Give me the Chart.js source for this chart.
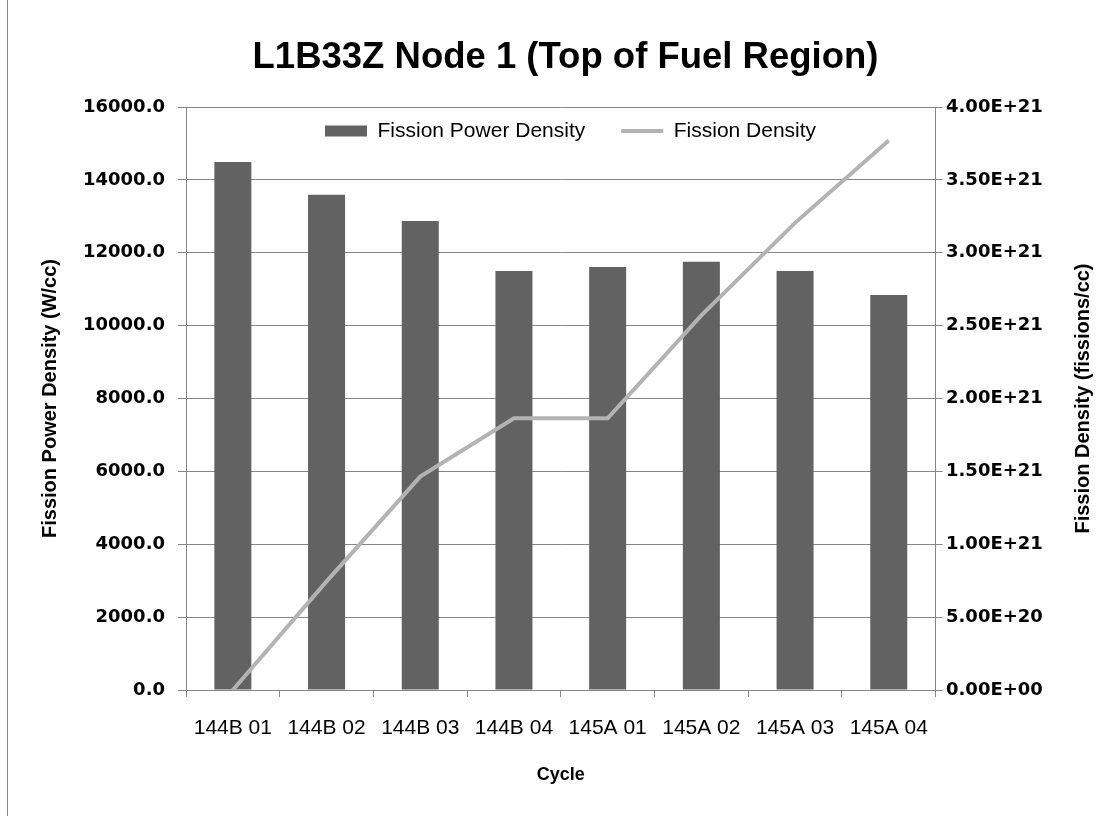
<!DOCTYPE html>
<html>
<head>
<meta charset="utf-8">
<script src="https://cdn.jsdelivr.net/npm/chart.js@4.4.0/dist/chart.umd.min.js"></script>
<style>
html,body{margin:0;padding:0;background:#fff;}
#wrap{position:relative;width:1119px;height:816px;overflow:hidden;}
#wrap canvas{position:absolute;left:0;top:0;}
#edge{position:absolute;left:7px;top:0;width:1px;height:816px;background:#878787;}
</style>
</head>
<body>
<div id="wrap"><canvas id="c" width="1119" height="816"></canvas><div id="edge"></div></div>
<script>
// ---- data ----
const categories = ['144B 01','144B 02','144B 03','144B 04','145A 01','145A 02','145A 03','145A 04'];
const fissionPowerDensity = [14490, 13590, 12870, 11500, 11610, 11750, 11500, 10840];
const fissionDensity = [0, 7.45e20, 1.464e21, 1.864e21, 1.864e21, 2.57e21, 3.205e21, 3.77e21];
const seriesNames = ['Fission Power Density', 'Fission Density'];
const chartTitle = 'L1B33Z Node 1 (Top of Fuel Region)';
const xAxisTitle = 'Cycle';
const leftAxisTitle = 'Fission Power Density (W/cc)';
const rightAxisTitle = 'Fission Density (fissions/cc)';
const leftTickRange = [0, 16000, 2000];
const rightTickRange = [0, 4e21, 5e20];

// ---- styles ----
const GRID = '#868686';
const BAR = '#626262';
const LINE = '#b3b3b3';
const SANS = '"Liberation Sans", Arial, sans-serif';
const TICKFONT = '"DejaVu Sans", Verdana, sans-serif';

function sci(v) {
  return v.toExponential(2).toUpperCase().replace(/E([+-])(\d)$/, 'E$10$2');
}

// legend placed inside the plot area (like the reference)
const legendInPlot = {
  id: 'legendInPlot',
  beforeLayout(chart) {
    const lg = chart.legend;
    if (lg && !lg._inPlot) {
      lg._inPlot = true;
      const fit = lg.fit, draw = lg.draw;
      lg.fit = function () { fit.call(this); this._h = this.height; this.height = 0; };
      lg.draw = function () {
        const pad = this.options.labels.padding;
        this.left = 325 - pad;
        this.right = chart.width;
        this.top = 131 - 10.5 - pad;
        this.bottom = chart.chartArea.bottom;
        this.width = this.right - this.left;
        this.height = this.bottom - this.top;
        draw.call(this);
      };
    }
  }
};

// right axis title reads bottom-to-top, like the left one
const rightTitle = {
  id: 'rightTitle',
  afterDraw(chart) {
    const ctx = chart.ctx;
    const ca = chart.chartArea;
    ctx.save();
    ctx.translate(1083, (ca.top + ca.bottom) / 2);
    ctx.rotate(-Math.PI / 2);
    ctx.font = 'bold 20px ' + SANS;
    ctx.fillStyle = '#000';
    ctx.textAlign = 'center';
    ctx.textBaseline = 'middle';
    ctx.fillText(rightAxisTitle, 0, 0);
    ctx.restore();
  }
};

new Chart(document.getElementById('c'), {
  type: 'bar',
  data: {
    labels: categories,
    datasets: [
      {
        type: 'bar',
        label: seriesNames[0],
        data: fissionPowerDensity,
        backgroundColor: BAR,
        borderWidth: 0,
        yAxisID: 'y',
        barPercentage: 0.395,
        categoryPercentage: 1.0,
        order: 1
      },
      {
        type: 'line',
        label: seriesNames[1],
        data: fissionDensity,
        borderColor: LINE,
        backgroundColor: LINE,
        borderWidth: 4,
        pointRadius: 0,
        pointHoverRadius: 0,
        tension: 0,
        yAxisID: 'y1',
        order: 0
      }
    ]
  },
  options: {
    responsive: false,
    animation: false,
    devicePixelRatio: 1,
    layout: { padding: { left: 12, right: 0, top: 0, bottom: 0 } },
    plugins: {
      title: {
        display: true,
        text: chartTitle,
        color: '#000',
        font: { family: SANS, size: 36.5, weight: 'bold' },
        padding: { top: 36, bottom: 27.2 }
      },
      legend: {
        display: true,
        position: 'top',
        align: 'start',
        labels: {
          color: '#000',
          font: { family: SANS, size: 21 },
          usePointStyle: true,
          pointStyleWidth: 42,
          boxHeight: 11,
          padding: 36,
          sort: (a, b) => a.datasetIndex - b.datasetIndex,
          generateLabels: (chart) => {
            const items = Chart.defaults.plugins.legend.labels.generateLabels(chart);
            items.forEach(it => { it.pointStyle = it.datasetIndex === 0 ? 'rect' : 'line'; });
            return items;
          }
        }
      },
      tooltip: { enabled: false }
    },
    scales: {
      x: {
        type: 'category',
        offset: true,
        grid: { display: true, offset: true, drawOnChartArea: false, drawTicks: true, tickLength: 7, color: GRID, lineWidth: 1 },
        border: { display: true, color: GRID, width: 1 },
        ticks: { color: '#000', font: { family: SANS, size: 21 }, padding: 19, maxRotation: 0, autoSkip: false },
        title: { display: true, text: xAxisTitle, color: '#000', font: { family: SANS, size: 18, weight: 'bold' }, padding: { top: 0, bottom: 30 } },
        afterFit: (s) => { s.height = 126; }
      },
      y: {
        type: 'linear',
        position: 'left',
        min: leftTickRange[0],
        max: leftTickRange[1],
        grid: { color: GRID, lineWidth: 1, drawTicks: true, tickLength: 8 },
        border: { display: true, color: GRID, width: 1 },
        ticks: { stepSize: leftTickRange[2], color: '#000', font: { family: TICKFONT, size: 18, weight: 'bold' }, padding: 13, callback: (v) => Number(v).toFixed(1) },
        title: { display: true, text: leftAxisTitle, color: '#000', font: { family: SANS, size: 20, weight: 'bold' }, padding: { top: 26, bottom: 0 } },
        afterFit: (s) => { s.width = 174; }
      },
      y1: {
        type: 'linear',
        position: 'right',
        min: rightTickRange[0],
        max: rightTickRange[1],
        grid: { drawOnChartArea: false, drawTicks: true, tickLength: 7, color: GRID, lineWidth: 1 },
        border: { display: true, color: GRID, width: 1 },
        ticks: { stepSize: rightTickRange[2], color: '#000', font: { family: TICKFONT, size: 18, weight: 'bold' }, padding: 3.4, callback: (v) => sci(Number(v)) },
        afterFit: (s) => { s.width = 183.4; }
      }
    }
  },
  plugins: [legendInPlot, rightTitle]
});
</script>
</body>
</html>
